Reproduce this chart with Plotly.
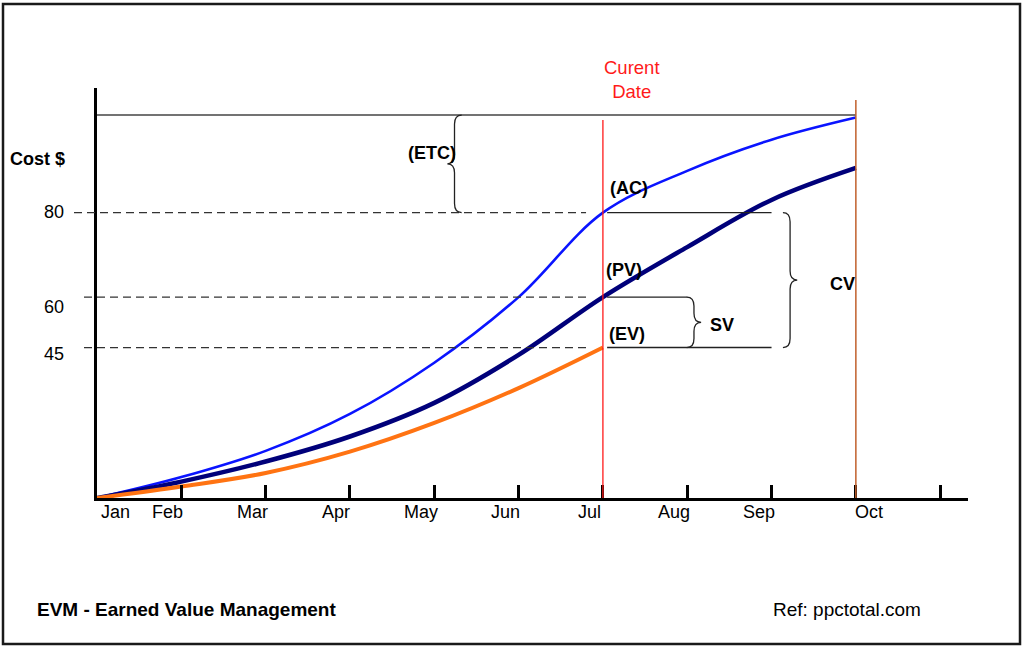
import plotly.graph_objects as go

# months from Jan (0) to Oct (9)
months = list(range(10))
month_names = ["Jan", "Feb", "Mar", "Apr", "May", "Jun", "Jul", "Aug", "Sep", "Oct"]
tick_months = list(range(1, 11))

# schematic cost curves (chart height units, 0 = baseline)
ac = [0, 5.1, 11.5, 20.5, 33.0, 49.0, 69.6, 79.8, 87.4, 92.8]  # actual cost
pv = [0, 4.0, 8.9, 15.0, 23.2, 34.9, 49.0, 61.2, 72.7, 80.5]   # planned value
ev = [0, 2.8, 6.1, 11.3, 18.3, 26.8, 36.7]                     # earned value
bac = 93.4
status_month = 6      # Jul - current date
finish_month = 9      # Oct
cost_labels = ["80", "60", "45"]

X_MAX = 10.33
Y_MAX = 100
FONT = "Liberation Sans, Arial, sans-serif"

ac_now = ac[status_month]
pv_now = pv[status_month]
ev_now = ev[status_month]


def xp(px):
    return (px - 97) / 871


def yp(py):
    return (498 - py) / 410


def brace(xc, y0, y1, side, d=0.085, r=2.2):
    ym = (y0 + y1) / 2
    xa = xc - side * d
    xt = xc + side * d
    return (f"M {xa},{y1} Q {xc},{y1} {xc},{y1 - r} L {xc},{ym + r} "
            f"Q {xc},{ym} {xt},{ym} Q {xc},{ym} {xc},{ym - r} "
            f"L {xc},{y0 + r} Q {xc},{y0} {xa},{y0}")


fig = go.Figure()

fig.add_trace(go.Scatter(x=months, y=ac, mode="lines", line_shape="spline",
                         line=dict(color="#0a14ff", width=2.6), name="AC"))
fig.add_trace(go.Scatter(x=months, y=pv, mode="lines", line_shape="spline",
                         line=dict(color="#00007a", width=4.5), name="PV"))
fig.add_trace(go.Scatter(x=months[:len(ev)], y=ev, mode="lines", line_shape="spline",
                         line=dict(color="#ff7312", width=4), name="EV"))

shapes = []
# budget at completion line
shapes.append(dict(type="line", xref="x", yref="y", x0=0, x1=finish_month, y0=bac, y1=bac,
                   line=dict(color="#444444", width=1.6)))
# dashed levels from the cost axis
for v, start in zip([ac_now, pv_now, ev_now], [74, 84, 84]):
    shapes.append(dict(type="line", xref="paper", yref="paper",
                       x0=xp(start), x1=5.8 / X_MAX, y0=v / Y_MAX, y1=v / Y_MAX,
                       line=dict(color="#333333", width=1.3, dash="8px,5px")))
# solid levels right of current date
for v, end in zip([ac_now, pv_now, ev_now], [8, 7, 8]):
    shapes.append(dict(type="line", xref="x", yref="y", x0=status_month + 0.05, x1=end,
                       y0=v, y1=v, line=dict(color="#222222", width=1.4)))
# current date and finish verticals
shapes.append(dict(type="line", xref="x", yref="y", x0=status_month, x1=status_month,
                   y0=0, y1=92.2, line=dict(color="#ff1a1a", width=1.3)))
shapes.append(dict(type="line", xref="x", yref="y", x0=finish_month, x1=finish_month,
                   y0=0, y1=97.1, line=dict(color="#c0602c", width=1.5)))
# braces
shapes.append(dict(type="path", xref="x", yref="y", path=brace(4.24, ac_now, bac, -1),
                   line=dict(color="#222222", width=1.3)))
shapes.append(dict(type="path", xref="x", yref="y", path=brace(7.08, ev_now, pv_now, 1),
                   line=dict(color="#222222", width=1.3)))
shapes.append(dict(type="path", xref="x", yref="y", path=brace(8.22, ev_now, ac_now, 1),
                   line=dict(color="#222222", width=1.3)))
# outer frame
shapes.append(dict(type="rect", xref="paper", yref="paper", x0=xp(3), x1=xp(1020),
                   y0=yp(644), y1=yp(4), line=dict(color="#1a1a1a", width=2.5)))

annotations = []
for m, name, shift in zip(months, month_names, [18, -14, -13, -14, -13, -13, -13, -13, -13, 13]):
    annotations.append(dict(x=m, y=yp(512), xref="x", yref="paper", text=name, showarrow=False,
                            xanchor="center", yanchor="middle", xshift=shift,
                            font=dict(size=18, color="black")))
for v, lab, shift in zip([ac_now, pv_now, ev_now], cost_labels, [1, -10, -6]):
    annotations.append(dict(x=xp(66), y=v, xref="paper", yref="y", text=lab, showarrow=False,
                            xanchor="right", yanchor="middle", yshift=shift,
                            font=dict(size=18, color="black")))

bold = dict(size=18, color="black")
annotations += [
    dict(x=xp(37), y=yp(159), xref="paper", yref="paper", text="<b>Cost $</b>",
         showarrow=False, xanchor="center", yanchor="middle", font=bold),
    dict(x=status_month, y=yp(79), xref="x", yref="paper", text="Curent<br>Date",
         showarrow=False, xanchor="center", yanchor="middle", xshift=29,
         font=dict(size=18.5, color="#ff1a1a")),
    dict(x=4.24, y=(ac_now + bac) / 2, xref="x", yref="y", text="<b>(ETC)</b>",
         showarrow=False, xanchor="right", yanchor="middle", xshift=3, yshift=11, font=bold),
    dict(x=status_month, y=ac_now, xref="x", yref="y", text="<b>(AC)</b>",
         showarrow=False, xanchor="left", yanchor="middle", xshift=5, yshift=25, font=bold),
    dict(x=status_month, y=pv_now, xref="x", yref="y", text="<b>(PV)</b>",
         showarrow=False, xanchor="left", yanchor="middle", xshift=1, yshift=27, font=bold),
    dict(x=status_month, y=ev_now, xref="x", yref="y", text="<b>(EV)</b>",
         showarrow=False, xanchor="left", yanchor="middle", xshift=4, yshift=14, font=bold),
    dict(x=7.08, y=(ev_now + pv_now) / 2, xref="x", yref="y", text="<b>SV</b>",
         showarrow=False, xanchor="left", yanchor="middle", xshift=14, yshift=-3, font=bold),
    dict(x=8.22, y=(ev_now + ac_now) / 2, xref="x", yref="y", text="<b>CV</b>",
         showarrow=False, xanchor="left", yanchor="middle", xshift=38, yshift=-4, font=bold),
    dict(x=xp(35), y=yp(609), xref="paper", yref="paper", text="<b>EVM - Earned Value Management</b>",
         showarrow=False, xanchor="left", yanchor="middle", font=dict(size=19, color="black")),
    dict(x=xp(847), y=yp(609), xref="paper", yref="paper", text="Ref: ppctotal.com",
         showarrow=False, xanchor="center", yanchor="middle", font=dict(size=19, color="black")),
]

fig.update_layout(
    width=1024, height=651,
    margin=dict(l=97, r=56, t=88, b=153),
    paper_bgcolor="white", plot_bgcolor="white",
    showlegend=False,
    font=dict(family=FONT),
    shapes=shapes,
    annotations=annotations,
    xaxis=dict(range=[0, X_MAX], showgrid=False, zeroline=False, showline=True,
               linecolor="black", linewidth=3, ticks="inside", tickvals=tick_months,
               ticklen=13, tickwidth=3, tickcolor="black", showticklabels=False),
    yaxis=dict(range=[0, Y_MAX], showgrid=False, zeroline=False, showline=True,
               linecolor="black", linewidth=3, showticklabels=False),
)

fig.write_html("out.html", config={"displayModeBar": False},
               post_script="document.body.style.margin='0';document.body.style.overflow='hidden';")
